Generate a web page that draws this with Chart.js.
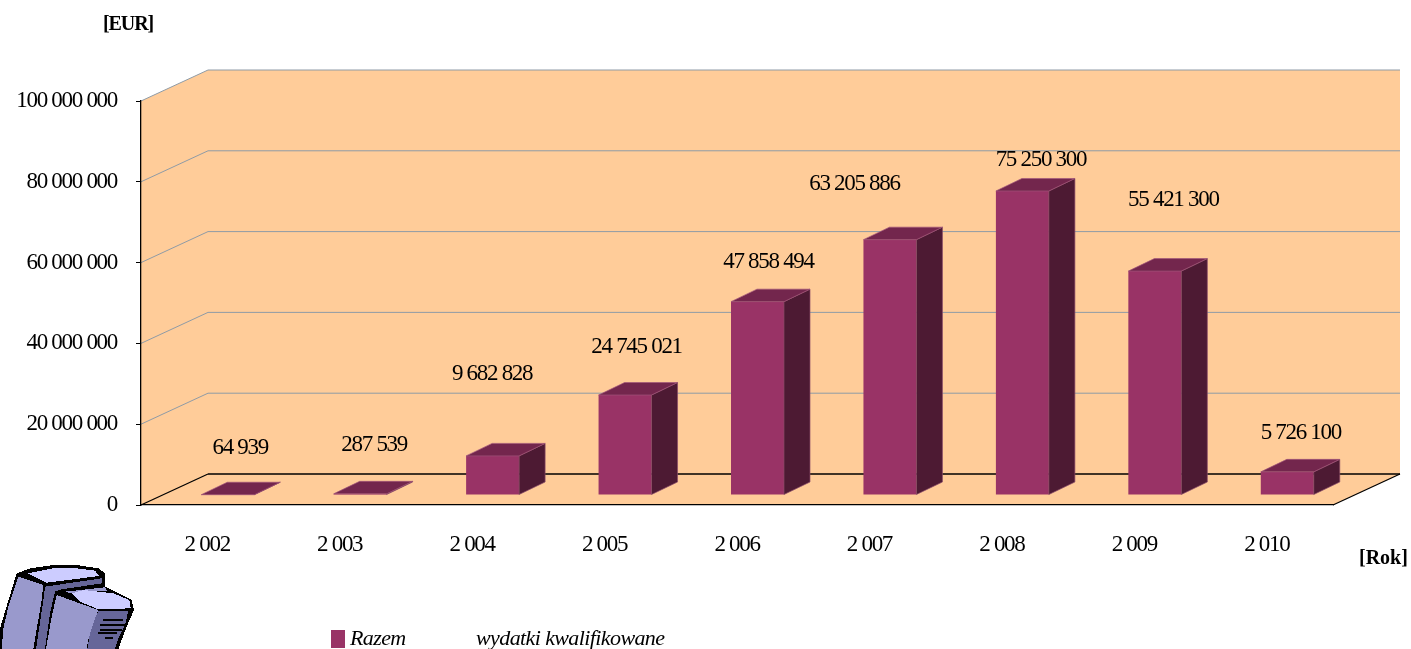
<!DOCTYPE html>
<html>
<head>
<meta charset="utf-8">
<title>Razem wydatki kwalifikowane</title>
<script src="https://cdn.jsdelivr.net/npm/chart.js@4"></script>
<style>
    body { margin: 0; background: #fff; }
    #wrap { position: relative; width: 1411px; height: 649px; overflow: hidden; }
    #chart { display: block; }
    #icon { position: absolute; left: 0; top: 550px; }
</style>
</head>
<body>
<div id="wrap">
    <canvas id="chart" width="1411" height="649"></canvas>
    <!-- clipart in the bottom left corner -->
    <svg id="icon" width="140" height="99" viewBox="0 0 420 297" shape-rendering="crispEdges">
        <polygon fill="#000" points="0,235 15,185 50,70 90,55 160,45 230,45 295,55 315,70 315,110 395,150 402,180 380,230 355,297 0,297"/>
        <polygon fill="#9999cc" points="55,80 130,105 125,150 100,297 5,297 10,235 25,170"/>
        <polygon fill="#ccccff" points="82,70 160,55 230,55 285,62 298,78 140,98"/>
        <polygon fill="#666699" points="135,110 305,85 305,100 185,118 165,125 150,190 135,297 108,297 130,150"/>
        <polygon fill="#9999cc" points="170,135 295,180 285,205 265,270 260,297 138,297 155,200"/>
        <polygon fill="#9999cc" points="195,125 315,112 320,122 215,130"/>
        <polygon fill="#ccccff" points="215,130 250,120 340,130 388,150 392,175 295,178 240,155"/>
        <polygon fill="#666699" points="295,182 385,182 375,225 355,265 345,297 262,297 270,250 285,205"/>
        <path stroke="#000" stroke-width="6" d="M310,210H370M300,225H375M300,240H365M295,250H350M315,265H340"/>
    </svg>
</div>
<script>
//chart data
const years = ["2 002", "2 003", "2 004", "2 005", "2 006", "2 007", "2 008", "2 009", "2 010"];
const wydatki = [64939, 287539, 9682828, 24745021, 47858494, 63205886, 75250300, 55421300, 5726100];
const yTicks = [0, 20000000, 40000000, 60000000, 80000000, 100000000];

// hand placed value labels, offset from the top centre of each bar
const labelDx = [12.5, 14, -0.5, 11.5, 11, -35.5, 18.5, 18.5, 13.5];
const labelDy = [-49, -51, -84, -50, -42, -58, -33, -73, -41];

// 3d look
const wallDx = 67, wallDy = -31;   // depth of the floor
const barDx = 20.5, barDy = -10;   // where the front of a bar stands on the floor
const depthX = 26, depthY = -12.5; // depth of a bar

const serif = '"Liberation Serif", serif';

function spaced(value) {
    return String(value).replace(/\B(?=(\d{3})+(?!\d))/g, " ");
}

function poly(ctx, points, fill, stroke) {
    ctx.beginPath();
    points.forEach((p, i) => i ? ctx.lineTo(p[0], p[1]) : ctx.moveTo(p[0], p[1]));
    ctx.closePath();
    ctx.fillStyle = fill;
    ctx.fill();
    if (stroke) {
        ctx.strokeStyle = stroke;
        ctx.lineWidth = 0.7;
        ctx.stroke();
    }
}

function line(ctx, x1, y1, x2, y2, color, width) {
    ctx.beginPath();
    ctx.moveTo(x1, y1);
    ctx.lineTo(x2, y2);
    ctx.strokeStyle = color;
    ctx.lineWidth = width;
    ctx.stroke();
}

function text(ctx, str, x, y, font, align, spacing) {
    ctx.font = font;
    ctx.letterSpacing = spacing + "px";
    ctx.textAlign = align;
    ctx.textBaseline = "alphabetic";
    ctx.fillStyle = "#000";
    ctx.fillText(str, x, y);
}

const walls = {
    id: "walls",
    beforeDraw(chart) {
        const { ctx, chartArea: a, scales } = chart;
        const y0 = scales.y.getPixelForValue(0);
        // squeezed text for the whole chart, ticks included
        ctx.letterSpacing = "-1.3px";
        poly(ctx, [[a.left, a.top], [a.left + wallDx, a.top + wallDy], [a.right + wallDx, a.top + wallDy],
            [a.right + wallDx, y0 + wallDy], [a.right, y0], [a.left, y0]], "#ffcc99");
        yTicks.forEach((v) => {
            const y = scales.y.getPixelForValue(v);
            const color = v === 0 ? "#000" : "#8f9ba6";
            const w = v === 0 ? 1.3 : 1;
            line(ctx, a.left, y, a.left + wallDx, y + wallDy, color, w);
            line(ctx, a.left + wallDx, y + wallDy, a.right + wallDx, y + wallDy, color, w);
        });
        line(ctx, a.right, y0, a.right + wallDx, y0 + wallDy, "#000", 1.3);
    },
    beforeDatasetDraw(chart) {
        chart.ctx.save();
        chart.ctx.translate(barDx, barDy);
    },
    afterDatasetDraw(chart) {
        const ctx = chart.ctx;
        chart.getDatasetMeta(0).data.forEach((bar) => {
            const p = bar.getProps(["x", "y", "base", "width"], true);
            const l = p.x - p.width / 2, r = p.x + p.width / 2;
            poly(ctx, [[r, p.y], [r + depthX, p.y + depthY], [r + depthX, p.base + depthY], [r, p.base]], "#4d1a33", "#8a4a68");
            poly(ctx, [[l, p.y], [l + depthX, p.y + depthY], [r + depthX, p.y + depthY], [r, p.y]], "#73264d", "#a0557a");
        });
        ctx.restore();
    },
    afterDraw(chart) {
        const ctx = chart.ctx;
        const valueFont = "23px " + serif;
        chart.getDatasetMeta(0).data.forEach((bar, i) => {
            const p = bar.getProps(["x", "y"], true);
            text(ctx, spaced(wydatki[i]), p.x + barDx + labelDx[i], p.y + barDy + labelDy[i] + 8, valueFont, "center", -1.3);
        });
        text(ctx, "[EUR]", 103, 30, "bold 20px " + serif, "left", -1.1);
        text(ctx, "[Rok]", 1359, 564, "bold 20px " + serif, "left", 0);
        // legend
        ctx.fillStyle = "#993366";
        ctx.fillRect(331, 630, 14, 18);
        text(ctx, "Razem", 350, 645, "italic 22px " + serif, "left", -0.6);
        text(ctx, "wydatki kwalifikowane", 476, 645, "italic 22px " + serif, "left", -0.6);
    }
};

new Chart(document.getElementById("chart").getContext("2d"), {
    type: "bar",
    data: {
        labels: years,
        datasets: [
            {
                label: "Razem wydatki kwalifikowane",
                data: wydatki,
                backgroundColor: "#993366",
                borderWidth: 0,
                categoryPercentage: 1,
                barPercentage: 0.4,
                clip: false,
            },
        ],
    },
    options: {
        responsive: false,
        animation: false,
        layout: { padding: { top: 101, right: 78 } },
        plugins: { legend: { display: false }, tooltip: { enabled: false } },
        scales: {
            x: {
                grid: { display: false },
                border: { color: "#000", width: 1.3 },
                ticks: { color: "#000", font: { family: serif, size: 23 }, padding: 18, maxRotation: 0 },
                afterFit(scale) { scale.height = 144; },
            },
            y: {
                min: 0,
                max: 100000000,
                afterBuildTicks(scale) { scale.ticks = yTicks.map((v) => ({ value: v })); },
                grid: { drawOnChartArea: false, tickLength: 5, tickColor: "#000" },
                border: { color: "#000", width: 1.3 },
                ticks: {
                    color: "#000",
                    font: { family: serif, size: 23 },
                    padding: 19,
                    callback: (v) => spaced(v),
                },
                afterFit(scale) { scale.width = 141; },
            },
        },
    },
    plugins: [walls],
});
</script>
</body>
</html>
